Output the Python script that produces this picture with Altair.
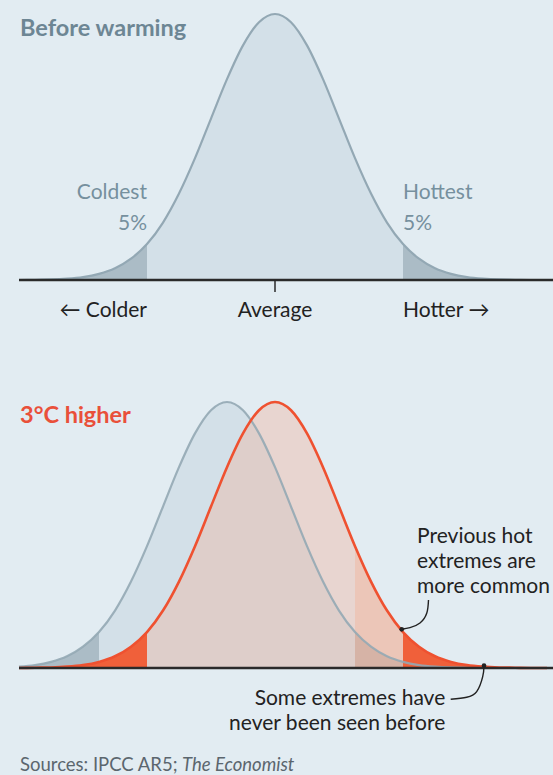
import altair as alt
import pandas as pd

# Bell-curve profile of daily temperatures: height (share of the peak)
# at offsets from the mean, measured in standard deviations.
OFFSETS = [-4.25, -4.0, -3.75, -3.5, -3.25, -3.0, -2.75, -2.5, -2.25, -2.0,
           -1.75, -1.5, -1.25, -1.0, -0.75, -0.5, -0.25, 0.0,
           0.25, 0.5, 0.75, 1.0, 1.25, 1.5, 1.75, 2.0,
           2.25, 2.5, 2.75, 3.0, 3.25, 3.5, 3.75, 4.0, 4.25]
HEIGHTS = [0.000, 0.000, 0.001, 0.002, 0.005, 0.011, 0.023, 0.044, 0.080, 0.135,
           0.216, 0.325, 0.458, 0.607, 0.755, 0.882, 0.969, 1.000,
           0.969, 0.882, 0.755, 0.607, 0.458, 0.325, 0.216, 0.135,
           0.080, 0.044, 0.023, 0.011, 0.005, 0.002, 0.001, 0.000, 0.000]

TAIL_CUT = 2.0        # edge of the coldest / hottest 5%
WARMING_SHIFT = -0.75  # the old distribution sits this far left of the 3°C-warmer one
AXIS_START = -4.0     # temperature axis begins here

# plot geometry (pixels)
W, H = 553, 775
X_MAX = 278 / 64
X_SCALE = alt.Scale(domain=[-275 / 64, X_MAX], nice=False, zero=False)
Y_TOP = alt.Scale(domain=[0, 1], range=[280, 14], nice=False, zero=False)
Y_BOT = alt.Scale(domain=[0, 1], range=[668, 402], nice=False, zero=False)

BG = "#e2ecf2"
GREY_FILL = "#d3e0e8"
GREY_TAIL = "#abbcc6"
GREY_LINE = "#93a8b4"
RED_LINE = "#ef5130"
RED_TAIL = "#f0603a"
PINK = "#f3ad91"
INK = "#222222"
SLATE = "#6d8694"
FONT = "Lato, DejaVu Sans"

profile = pd.DataFrame({"z": OFFSETS, "h": HEIGHTS})
before = profile.assign(x=profile.z)
old = profile.assign(x=profile.z + WARMING_SHIFT)
new = profile.assign(x=profile.z)
# nothing is drawn left of where the axis begins
before, old, new = (d[d.x >= AXIS_START] for d in (before, old, new))


def cold_tail(df):
    return df[df.z <= -TAIL_CUT]


def hot_tail(df):
    return df[df.z >= TAIL_CUT]


def area(df, yscale, **style):
    return alt.Chart(df).mark_area(interpolate="monotone", clip=True, **style).encode(
        x=alt.X("x:Q", scale=X_SCALE, axis=None),
        y=alt.Y("h:Q", scale=yscale, axis=None, stack=None),
    )


def curve(df, yscale, **style):
    return alt.Chart(df).mark_line(interpolate="monotone", clip=True, **style).encode(
        x=alt.X("x:Q", scale=X_SCALE, axis=None),
        y=alt.Y("h:Q", scale=yscale, axis=None),
    )


def baseline(yscale):
    df = pd.DataFrame({"x": [AXIS_START], "x2": [X_MAX], "h": [0.0]})
    return alt.Chart(df).mark_rule(color="#2a2a2a", strokeWidth=2.5).encode(
        x=alt.X("x:Q", scale=X_SCALE, axis=None),
        x2="x2:Q",
        y=alt.Y("h:Q", scale=yscale, axis=None),
    )


def label(text, x, y, size=21, color=INK, align="left", weight="normal", style="normal"):
    df = pd.DataFrame({"t": [text], "x": [x]})
    return alt.Chart(df).mark_text(
        align=align, baseline="alphabetic", font=FONT, fontSize=size,
        color=color, fontWeight=weight, fontStyle=style,
    ).encode(x=alt.X("x:Q", scale=X_SCALE, axis=None), y=alt.value(y), text="t:N")


def title(text, x_px, y_px, size, color, weight="normal", style="normal"):
    df = pd.DataFrame({"t": [text]})
    return alt.Chart(df).mark_text(
        align="left", baseline="alphabetic", font=FONT, fontSize=size,
        color=color, fontWeight=weight, fontStyle=style,
    ).encode(x=alt.value(x_px), y=alt.value(y_px), text="t:N")


def pointer(xs, ys):
    df = pd.DataFrame({"px": xs, "py": ys, "o": list(range(len(xs)))})
    line = alt.Chart(df).mark_line(interpolate="natural", color=INK, strokeWidth=1.4).encode(
        x=alt.X("px:Q", scale=None), y=alt.Y("py:Q", scale=None), order="o:Q")
    dot = alt.Chart(df.tail(1)).mark_circle(color=INK, opacity=1, size=22).encode(
        x=alt.X("px:Q", scale=None), y=alt.Y("py:Q", scale=None))
    return line + dot


# --- Before warming -------------------------------------------------------
top_layers = [
    area(before, Y_TOP, color=GREY_FILL),
    area(cold_tail(before), Y_TOP, color=GREY_TAIL),
    area(hot_tail(before), Y_TOP, color=GREY_TAIL),
    curve(before, Y_TOP, color=GREY_LINE, strokeWidth=2.2),
    baseline(Y_TOP),
    alt.Chart(pd.DataFrame({"x": [0.0], "h": [0.0], "h2": [-0.045]})).mark_rule(
        color="#2a2a2a", strokeWidth=1.5).encode(
        x=alt.X("x:Q", scale=X_SCALE, axis=None),
        y=alt.Y("h:Q", scale=Y_TOP, axis=None), y2="h2:Q"),
    title("Before warming", 20, 36, 23.5, SLATE, weight="bold"),
    label("Coldest", -TAIL_CUT, 199, color="#76909e", align="right"),
    label("5%", -TAIL_CUT, 230, color="#76909e", align="right"),
    label("Hottest", TAIL_CUT, 199, color="#76909e"),
    label("5%", TAIL_CUT, 230, color="#76909e"),
    label("← Colder", -TAIL_CUT, 317, align="right"),
    label("Average", 0.0, 317, align="center"),
    label("Hotter →", TAIL_CUT, 317),
]

# --- 3°C higher -----------------------------------------------------------
old_hot_cut = TAIL_CUT + WARMING_SHIFT
new_mid = new[(new.z >= -TAIL_CUT) & (new.x <= old_hot_cut)]
new_zone = new[(new.x >= old_hot_cut) & (new.z <= TAIL_CUT)]

bottom_layers = [
    area(old, Y_BOT, color=GREY_FILL),
    area(cold_tail(old), Y_BOT, color=GREY_TAIL),
    area(hot_tail(old), Y_BOT, color=GREY_TAIL),
    area(new_mid, Y_BOT, color=PINK, opacity=0.35),
    area(new_zone, Y_BOT, color=PINK, opacity=0.6),
    area(cold_tail(new), Y_BOT, color=RED_TAIL),
    area(hot_tail(new), Y_BOT, color=RED_TAIL),
    curve(old, Y_BOT, color=GREY_LINE, strokeWidth=2.2, opacity=0.9),
    curve(new, Y_BOT, color=RED_LINE, strokeWidth=2.6),
    baseline(Y_BOT),
    title("3°C higher", 20, 423, 23.5, "#e9503a", weight="bold"),
    label("Previous hot", 2.22, 543),
    label("extremes are", 2.22, 568),
    label("more common", 2.22, 593),
    pointer([428.5, 426.8, 420.0, 410.0, 401.7], [600.0, 613.0, 623.0, 627.7, 629.3]),
    label("Some extremes have", 2.66, 705, align="right"),
    label("never been seen before", 2.66, 730, align="right"),
    pointer([450.7, 466.7, 476.7, 482.7, 484.0], [699.3, 697.3, 691.7, 676.7, 665.7]),
    title("Sources: IPCC AR5;", 20, 771, 18.5, "#5b666e"),
    title("The Economist", 182, 771, 18.5, "#5b666e", style="italic"),
]

chart = alt.layer(*top_layers, *bottom_layers).resolve_scale(y="independent").properties(
    width=W, height=H, padding=0, autosize="none", background=BG,
).configure_view(stroke=None)

chart.save("out.html", embed_options={"renderer": "svg", "actions": False})
